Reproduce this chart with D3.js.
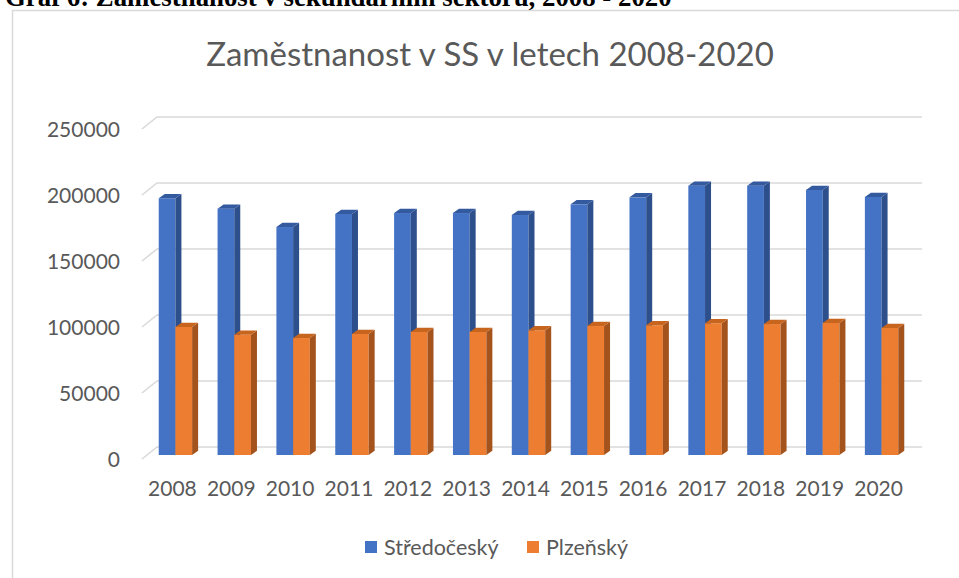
<!DOCTYPE html>
<html>
<head>
<meta charset="utf-8">
<script src="https://cdn.jsdelivr.net/npm/d3@7"></script>
<style>
  body { margin: 0; background: #fff; overflow: hidden; }
  text { font-family: Lato, "Open Sans", sans-serif; }
</style>
</head>
<body>
<script>

var years = ["2008","2009","2010","2011","2012","2013","2014","2015","2016","2017","2018","2019","2020"];
var stredocesky = [194500,186600,172700,182600,183300,183300,181800,189900,195200,204000,204000,200800,195500];
var plzensky = [97000,91100,88600,91700,93200,93200,94500,97700,98300,99800,99200,100000,96200];
var seriesNames = ["Středočeský","Plzeňský"];
var yTicks = [0,50000,100000,150000,200000,250000];

var width = 959, height = 578;

var svg = d3.select("body").append("svg")
    .attr("width", width)
    .attr("height", height);

// caption of the document, mostly cut off at the top
var caption = svg.append("text")
    .attr("x", 5)
    .attr("y", 6)
    .style("font-family", "'Liberation Serif', 'Times New Roman', serif")
    .style("font-weight", "bold")
    .style("font-size", "22px")
    .attr("fill", "#000")
    .text("Graf 6: Zaměstnanost v sekundárním sektoru, 2008 - 2020");
var cw = caption.node().getComputedTextLength();
caption.style("font-size", (22 * 667 / cw) + "px");

// chart frame
svg.append("rect")
    .attr("x", 12.5)
    .attr("y", 10.5)
    .attr("width", 1000)
    .attr("height", 700)
    .attr("fill", "#fff")
    .attr("stroke", "#d9d9d9")
    .attr("stroke-width", 1.5);

svg.append("text")
    .attr("x", 490)
    .attr("y", 66)
    .attr("text-anchor", "middle")
    .attr("fill", "#595959")
    .style("font-size", "33px")
    .text("Zaměstnanost v SS v letech 2008-2020");

// 3d geometry
var floorFront = 459;     // y of zero at the front edge of the floor
var depthX = 15, depthY = 12;
var barDepthX = 5, barDepthY = 4;   // where bars stand
var sideX = 6, sideY = 4.3;         // bar thickness

var y = d3.scaleLinear().domain([0, 250000]).range([0, 330]);

var x = d3.scaleBand()
    .domain(years)
    .range([141, 906])
    .paddingInner(0)
    .paddingOuter(0);

var groupW = 33.4;
var bw = groupW / 2;

var grid = svg.append("g");
yTicks.forEach(function(t){
    var yf = floorFront - y(t);
    grid.append("path")
        .attr("fill", "none")
        .attr("stroke", "#d9d9d9")
        .attr("stroke-width", 1.6)
        .attr("d", "M142," + yf + "L" + (142 + depthX) + "," + (yf - depthY) + "L922," + (yf - depthY));
});

svg.append("g").selectAll("text")
    .data(yTicks)
    .join("text")
    .attr("x", 120)
    .attr("y", function(d){ return floorFront - y(d); })
    .attr("dy", "0.36em")
    .attr("text-anchor", "end")
    .attr("fill", "#595959")
    .style("font-size", "21px")
    .text(function(d){ return d; });

svg.append("g").selectAll("text")
    .data(years)
    .join("text")
    .attr("x", function(d){ return x(d) + x.bandwidth() / 2 + 2; })
    .attr("y", 496)
    .attr("text-anchor", "middle")
    .attr("fill", "#595959")
    .style("font-size", "21px")
    .text(function(d){ return d; });

var colors = [
    {front: "#4472c4", side: "#2d4f8c", top: "#33599f"},
    {front: "#ed7d31", side: "#a4531c", top: "#c7651f"}
];

var base = floorFront - barDepthY;
var bars = svg.append("g");

years.forEach(function(yr, i){
    var vals = [stredocesky[i], plzensky[i]];
    var gx = x(yr) + barDepthX + (x.bandwidth() - groupW) / 2;
    vals.forEach(function(v, s){
        var bx = gx + s * bw;
        var top = base - y(v);
        var c = colors[s];
        bars.append("rect")
            .attr("x", bx)
            .attr("y", top)
            .attr("width", bw)
            .attr("height", base - top)
            .attr("fill", c.front);
        bars.append("path")
            .attr("fill", c.side)
            .attr("d", "M" + (bx + bw) + "," + top +
                "L" + (bx + bw + sideX) + "," + (top - sideY) +
                "L" + (bx + bw + sideX) + "," + (base - sideY) +
                "L" + (bx + bw) + "," + base + "Z");
        bars.append("path")
            .attr("fill", c.top)
            .attr("d", "M" + bx + "," + top +
                "L" + (bx + sideX) + "," + (top - sideY) +
                "L" + (bx + bw + sideX) + "," + (top - sideY) +
                "L" + (bx + bw) + "," + top + "Z");
    });
});

// legend
var legendX = [365, 527];
var legend = svg.append("g");
seriesNames.forEach(function(n, s){
    legend.append("rect")
        .attr("x", legendX[s])
        .attr("y", 541)
        .attr("width", 12)
        .attr("height", 12)
        .attr("fill", colors[s].front);
    legend.append("text")
        .attr("x", legendX[s] + 19)
        .attr("y", 555)
        .attr("fill", "#595959")
        .style("font-size", "21.5px")
        .text(n);
});

</script>
</body>
</html>
